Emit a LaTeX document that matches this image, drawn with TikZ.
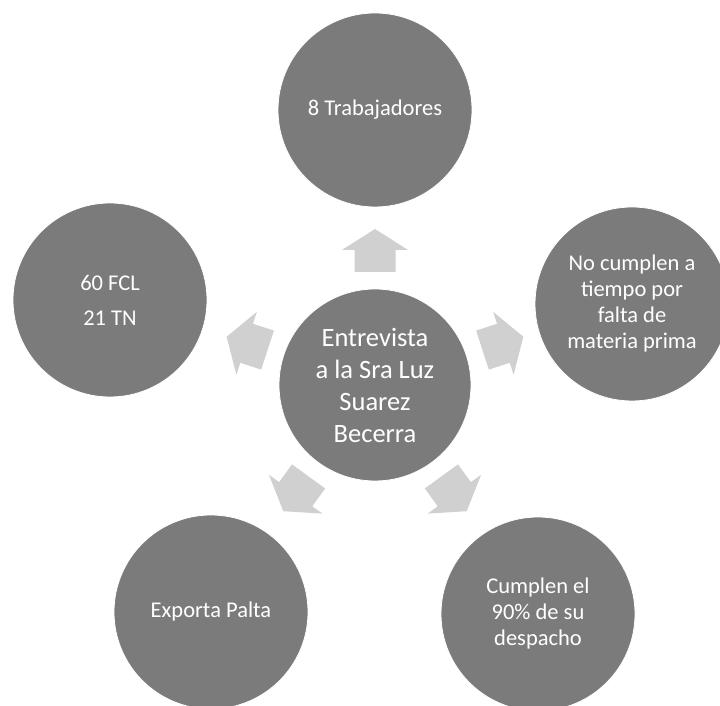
\documentclass[tikz,border=0pt]{standalone}
\usepackage{fontspec}
\setmainfont{Carlito}
\definecolor{circgray}{HTML}{7B7B7B}
\definecolor{arrowgray}{HTML}{D0D0D0}
\tikzset{
  bubble/.style={circle, fill=circgray, draw=white, line width=0.8pt, inner sep=0pt,
    minimum size=194pt, text=white, align=center, font=\fontsize{22.5}{26}\selectfont},
  hub/.style={bubble, minimum size=192pt, font=\fontsize{26.5}{32}\selectfont},
  blockarrow/.style={fill=arrowgray, draw=none}
}
\begin{document}
\begin{tikzpicture}[x=1pt,y=1pt]
\useasboundingbox (0,0) rectangle (720,706);
\fill[white] (0,0) rectangle (720,706);
% centre
\node[hub] (c) at (375,321) {Entrevista\\a la Sra Luz\\Suarez\\Becerra};
% outer circles
\node[bubble] (t) at (375,596) {8 Trabajadores};
\node[bubble] (r) at (632,402) {No cumplen a\\tiempo por\\falta de\\materia prima};
\node[bubble] (l) at (110,406) {60 FCL\\[9pt]21 TN};
\node[bubble] (bl) at (211,94) {Exporta Palta};
\node[bubble] (br) at (538,92) {Cumplen el\\90\% de su\\despacho};
% block arrows from centre towards each circle
\foreach \ang in {90,18,162,234,306}{
  \begin{scope}[shift={(c.center)}, rotate=\ang]
    \fill[blockarrow] (113,-20.5) -- (135,-20.5) -- (135,-33) -- (156,0)
      -- (135,33) -- (135,20.5) -- (113,20.5) -- cycle;
  \end{scope}
}
\end{tikzpicture}
\end{document}
